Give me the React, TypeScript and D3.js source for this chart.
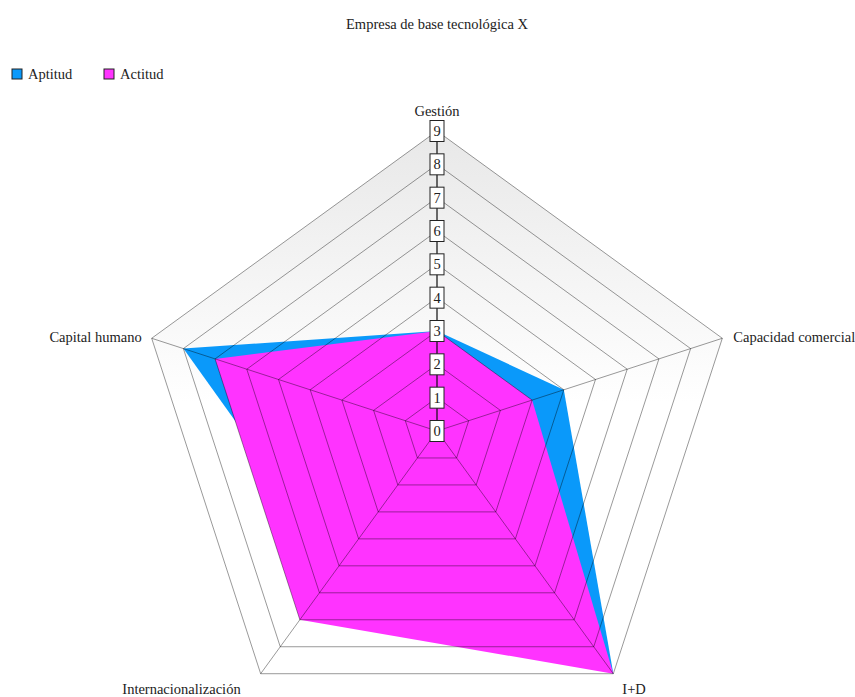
import React from 'react';
import * as d3 from 'd3';

// axes, clockwise from the top
const axes = ['Gestión', 'Capacidad comercial', 'I+D', 'Internacionalización', 'Capital humano'];
const aptitud = [3, 4, 9, 5, 8];
const actitud = [3, 3, 9, 7, 7];
const ticks = [0, 1, 2, 3, 4, 5, 6, 7, 8, 9];
const seriesNames = ['Aptitud', 'Actitud'];
const seriesColors = ['#0a99fa', '#ff33ff'];

const W = 855;
const H = 697;
const cx = 437;
const cy = 431;

const font = "'Liberation Serif', 'DejaVu Serif', serif";

const App: React.FC = () => {
  const r = d3.scaleLinear().domain([0, 9]).range([0, 300]);
  const angle = (i: number) => (i * 2 * Math.PI) / axes.length;
  const pt = (i: number, v: number): [number, number] => [
    cx + r(v) * Math.sin(angle(i)),
    cy - r(v) * Math.cos(angle(i)),
  ];

  const line = d3.line<[number, number]>().curve(d3.curveLinearClosed);
  const ring = (v: number) => line(axes.map((_, i) => pt(i, v))) ?? '';
  const area = (vals: number[]) => line(vals.map((v, i) => pt(i, v))) ?? '';

  // label placement per axis
  const labelPos = [
    { x: cx, y: cy - r(9) - 15, anchor: 'middle' },
    { x: pt(1, 9)[0] + 11, y: pt(1, 9)[1] + 4, anchor: 'start' },
    { x: pt(2, 9)[0] + 9, y: pt(2, 9)[1] + 20, anchor: 'start' },
    { x: pt(3, 9)[0] - 20, y: pt(3, 9)[1] + 20, anchor: 'end' },
    { x: pt(4, 9)[0] - 10, y: pt(4, 9)[1] + 4, anchor: 'end' },
  ];

  const txt = { fontFamily: font, fontSize: 14.5, fill: '#222' };

  return (
    <svg
      width={W}
      height={H}
      style={{ position: 'absolute', left: 0, top: 0, background: '#fff', fontFamily: font }}
    >
      <defs>
        <linearGradient id="bg" x1="0" y1={cy - r(9)} x2="0" y2={cy + r(9) * Math.cos(Math.PI / 5)} gradientUnits="userSpaceOnUse">
          <stop offset="0" stopColor="#e8e8e8" />
          <stop offset="0.5" stopColor="#ffffff" />
          <stop offset="1" stopColor="#ffffff" />
        </linearGradient>
      </defs>

      <text x={cx} y={29} textAnchor="middle" style={txt}>
        Empresa de base tecnológica X
      </text>

      {/* legend */}
      {seriesNames.map((name, i) => (
        <g key={name} transform={`translate(${12 + i * 92},69)`}>
          <rect x={0} y={0} width={10} height={10} fill={seriesColors[i]} stroke="#222" strokeWidth={1} />
          <text x={16} y={10} style={txt}>
            {name}
          </text>
        </g>
      ))}

      <path d={ring(9)} fill="url(#bg)" />

      <path d={area(aptitud)} fill={seriesColors[0]} />
      <path d={area(actitud)} fill={seriesColors[1]} />

      {/* web */}
      {ticks.slice(1).map((t) => (
        <path key={t} d={ring(t)} fill="none" stroke="#000" strokeOpacity={0.4} strokeWidth={1} />
      ))}
      {axes.map((a, i) => {
        const [x, y] = pt(i, 9);
        return <line key={a} x1={cx} y1={cy} x2={x} y2={y} stroke="#000" strokeOpacity={0.4} />;
      })}
      <line x1={cx} y1={cy} x2={cx} y2={cy - r(9)} stroke="#111" strokeWidth={1} />

      {/* tick boxes */}
      {ticks.map((t) => (
        <g key={t} transform={`translate(${cx},${cy - r(t)})`}>
          <rect x={-7} y={-10.5} width={14} height={21} fill="#fff" stroke="#222" strokeWidth={1} />
          <text x={0} y={5} textAnchor="middle" style={txt}>
            {t}
          </text>
        </g>
      ))}

      {axes.map((a, i) => (
        <text key={a} x={labelPos[i].x} y={labelPos[i].y} textAnchor={labelPos[i].anchor as any} style={txt}>
          {a}
        </text>
      ))}
    </svg>
  );
};

export default App;
